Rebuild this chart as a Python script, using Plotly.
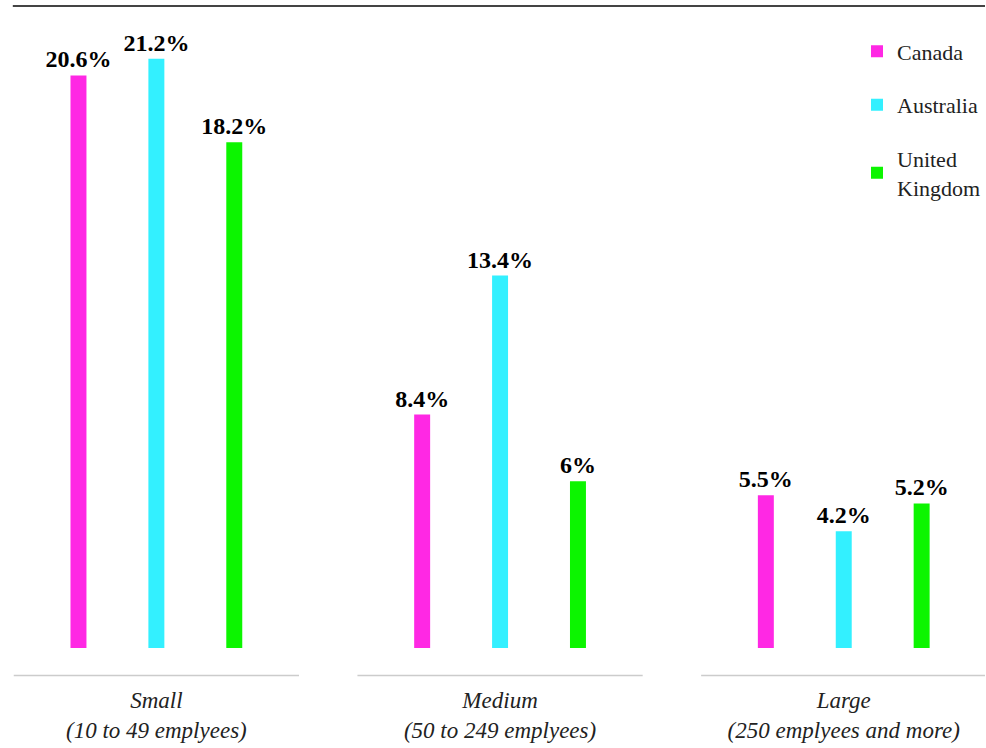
import plotly.graph_objects as go

# Share of firms by size class, per country (percent)
categories = [
    "Small<br>(10 to 49 emplyees)",
    "Medium<br>(50 to 249 emplyees)",
    "Large<br>(250 emplyees and more)",
]
countries = ["Canada", "Australia", "United<br>Kingdom"]
canada = [20.6, 8.4, 5.5]
australia = [21.2, 13.4, 4.2]
united_kingdom = [18.2, 6.0, 5.2]
colors = ["#FF28E4", "#33F0FF", "#0CF500"]

series = [canada, australia, united_kingdom]
SERIF = "Liberation Serif"

fig = go.Figure()
for i, (name, vals, col) in enumerate(zip(countries, series, colors)):
    fig.add_trace(go.Bar(
        x=categories,
        y=vals,
        name=name,
        legendgroup=f"g{i}",
        marker=dict(color=col, line=dict(width=0)),
        text=[f"{v:g}%" for v in vals],
        textposition="outside",
        constraintext="none",
        cliponaxis=False,
        textfont=dict(family=SERIF, size=24, color="#000000", weight="bold"),
        hoverinfo="skip",
    ))

# Rule across the top of the chart
fig.add_shape(type="line", xref="paper", yref="paper", x0=0.013, x1=1.0,
              y0=1.0, y1=1.0, line=dict(color="#444444", width=2))
# Light baseline under each size group
for k in range(len(categories)):
    fig.add_shape(type="line", xref="x", yref="paper",
                  x0=k - 0.415, x1=k + 0.415, y0=-0.043, y1=-0.043,
                  line=dict(color="#cccccc", width=1.5))

fig.update_layout(
    width=986, height=748,
    margin=dict(l=0, r=0, t=6, b=100),
    paper_bgcolor="white", plot_bgcolor="white",
    barmode="group", bargap=0.32, bargroupgap=0.795,
    showlegend=True,
    legend=dict(
        x=0.870, y=0.962, xanchor="left", yanchor="top",
        font=dict(family=SERIF, size=22, color="#222222"),
        traceorder="grouped", tracegroupgap=22,
        bgcolor="rgba(0,0,0,0)",
    ),
    xaxis=dict(
        range=[-0.455, 2.411], showgrid=False, zeroline=False, showline=False,
        ticks="", ticklabelstandoff=36,
        tickfont=dict(family=SERIF, size=23, color="#222222", style="italic"),
    ),
    yaxis=dict(range=[0, 23.1], showgrid=False, zeroline=False,
               showline=False, showticklabels=False, ticks=""),
)

fig.write_html("out.html")
